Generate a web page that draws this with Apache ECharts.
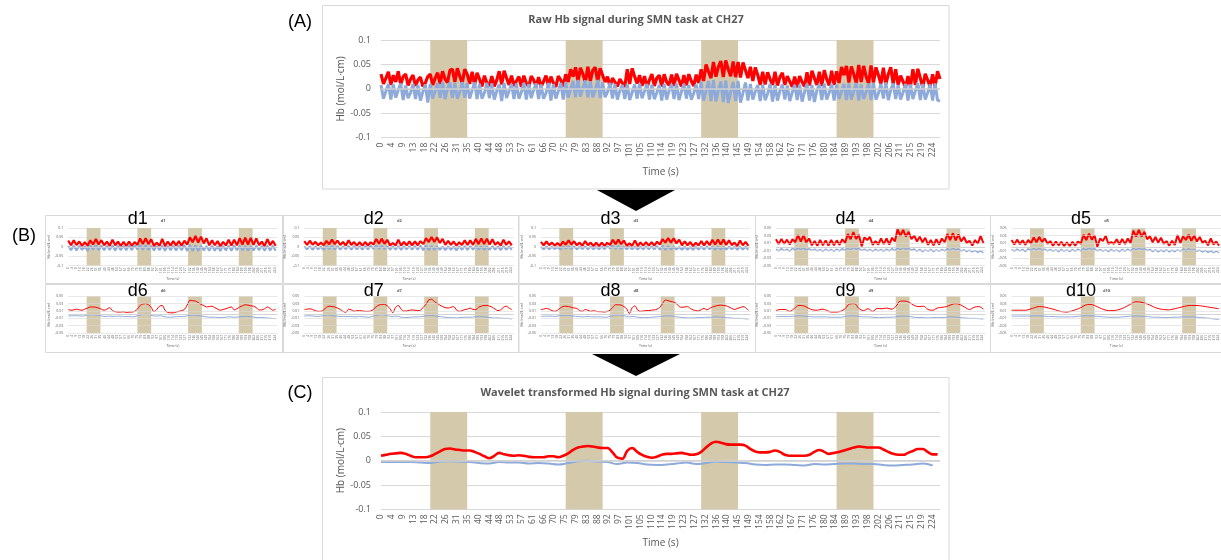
<!DOCTYPE html>
<html><head><meta charset="utf-8">
<script src="https://cdn.jsdelivr.net/npm/echarts@6/dist/echarts.min.js"></script>
<style>html,body{margin:0;padding:0;background:#fff}#c{width:1221px;height:560px}</style>
</head><body><div id="c"></div>
<script>
// ---------------- DATA (Hb values in thousandths: 1 unit = 0.001 mol/L·cm) ----------------
const TIME_TICKS = ['0','4','9','13','18','22','26','31','35','40','44','48','53','57','61','66','70','75','79','83','88','92','97','101','105','110','114','119','123','127','132','136','140','145','149','154','158','162','167','171','176','180','184','189','193','198','202','206','211','215','219','224'];
const TIME_TICK_STEP = 4.39;   // seconds between time tick labels
const TIME_MAX = 227;          // seconds
const TASK_BLOCKS = [[20,35],[75,90],[130,145],[185,200]];
const Y_TICKS_NARROW = [-0.05,-0.03,-0.01,0.01,0.03,0.05];

// (A) raw signal, 1 s step
const RAW_OXY = [30,10,22,35,8,28,14,36,9,25, 30,7,20,28,6,18,24,5,12,25, 30,8,22,33,10,36,20,13,38,40, 14,42,26,12,40,30,10,35,8,33, 20,5,27,12,6,26,5,18,36,9, 37,22,8,27,6,16,25,4,27,12, 4,26,18,5,24,4,15,27,6,25, 12,4,26,18,5,30,14,40,25,44, 15,43,30,14,45,16,38,44,15,42, 28,14,25,4,22,14,5,20,12,4, 40,10,42,25,11,28,6,26,3,18, 30,6,22,28,5,30,14,7,29,6, 31,18,5,28,7,30,16,6,29,12, 40,16,50,35,22,55,25,45,57,24, 58,40,26,56,24,55,23,54,38,22, 45,16,44,28,8,35,9,34,20,8, 35,7,24,33,8,26,15,4,25,3, 26,14,5,34,7,37,22,8,35,6, 38,20,7,37,8,36,12,45,28,47, 13,46,30,12,49,14,47,25,11,48, 13,44,28,10,43,9,30,44,10,40, 8,27,15,3,26,5,40,8,41,22, 3,31,18,4,30,5,36,20];
const RAW_DEOXY = [8,-20,-5,10,-22,9,-18,-2,11,-23, 7,-19,-8,10,-21,8,-24,-6,9,-28, 10,-20,-4,12,-18,14,-21,0,13,-19, 12,-20,-6,14,-18,12,-20,-3,13,-21, 10,-20,-8,12,-19,11,-22,-5,9,-25, 12,-19,-4,10,-21,11,-20,-7,12,-22, 10,-19,-2,11,-21,9,-20,-9,12,-24, 10,-20,-5,12,-22,14,-18,-1,16,-17, 18,-16,2,17,-18,15,-17,-3,18,-19, 14,-17,-6,12,-20,10,-22,-4,8,-21, 10,-23,-7,9,-20,11,-19,-5,10,-22, 9,-21,-8,8,-24,10,-22,-3,9,-21, 11,-23,-6,10,-20,8,-22,-9,9,-21, 15,-24,-4,16,-25,18,-26,-2,15,-27, 17,-29,-6,14,-25,16,-28,-8,13,-24, 10,-22,-5,8,-25,9,-23,-10,10,-26, 8,-24,-4,9,-22,7,-25,-7,8,-23, 9,-26,-6,10,-24,8,-27,-3,9,-23, 11,-22,-8,10,-24,9,-21,-5,10,-23, 11,-22,-4,12,-24,9,-21,-6,11,-23, 12,-22,-9,10,-20,13,-23,-2,11,-21, 8,-22,-7,10,-24,9,-21,-4,12,-23, 10,-22,-8,9,-24,11,-23,-25];

// (B) wavelet detail levels d1-d5, 3 s step
const D1_OXY = [33,8,35,9,28,5,24,6,34,12, 41,12,35,8,27,5,37,8,27,4, 26,4,27,5,25,10,44,14,45,14, 40,4,22,5,42,3,28,6,30,6, 30,6,32,12,50,24,57,23,54,18, 45,8,35,8,30,3,26,7,37,7, 37,8,46,12,48,12,47,10,44,9, 27,3,41,8,31,5];
const D1_DEOXY = [4,-18,6,-20,5,-17,3,-22,7,-16, 8,-18,6,-19,5,-17,7,-20,6,-18, 5,-19,7,-18,9,-15,10,-16,9,-17, 6,-20,5,-19,6,-21,5,-18,6,-20, 7,-19,9,-22,10,-23,8,-21,5,-20, 4,-22,5,-21,4,-23,5,-20,6,-21, 7,-19,6,-20,5,-21,4,-20,6,-19, 5,-22,6,-20,5,-21];
const D2_OXY = [30,10,32,11,26,8,22,8,31,13, 38,14,33,10,25,7,34,10,25,6, 24,6,25,7,24,12,41,16,42,16, 37,7,20,7,38,6,26,8,28,8, 28,8,30,14,46,25,52,25,50,20, 42,10,32,10,28,6,24,9,34,9, 34,10,42,14,44,14,43,12,40,11, 25,6,37,10,29,7];
const D2_DEOXY = [2,-14,3,-16,2,-13,0,-17,4,-12, 5,-14,3,-15,2,-13,4,-16,3,-14, 2,-15,4,-14,6,-11,7,-12,6,-13, 3,-16,2,-15,3,-17,2,-14,3,-16, 4,-15,6,-18,7,-19,5,-17,2,-16, 1,-18,2,-17,1,-19,2,-16,3,-17, 4,-15,3,-16,2,-17,1,-16,3,-15, 2,-18,3,-16,2,-17];
const D3_OXY = [26,8,28,9,22,6,19,6,27,11, 34,12,29,8,22,5,30,8,22,4, 21,4,22,5,21,10,37,14,38,14, 33,5,18,5,34,4,23,6,25,6, 25,6,27,12,41,22,47,22,45,18, 38,8,29,8,25,4,21,7,30,7, 30,8,37,12,39,12,38,10,35,9, 22,4,33,8,26,5];
const D3_DEOXY = [0,-13,1,-14,0,-12,-2,-15,2,-11, 3,-12,1,-13,0,-12,2,-14,1,-13, 0,-14,2,-13,4,-10,5,-11,4,-12, 1,-14,0,-14,1,-15,0,-13,1,-14, 2,-14,4,-16,5,-17,3,-15,0,-15, -1,-16,0,-16,-1,-17,0,-15,1,-15, 2,-14,1,-15,0,-15,-1,-15,1,-14, 0,-16,1,-15,0,-16];
const D4_OXY = [20,7,21,8,19,6,20,12,31,14, 30,12,22,4,15,3,18,4,17,3, 18,4,17,5,20,10,34,20,39,21, 32,1,25,18,26,5,15,6,22,7, 22,6,24,14,46,29,45,27,40,20, 30,14,27,12,24,5,18,4,20,6, 22,12,34,18,36,17,33,14,26,10, 16,3,18,8,29,10];
const D4_DEOXY = [-6,-11,-5,-10,-6,-12,-4,-9,-3,-8, -3,-9,-5,-10,-6,-11,-7,-12,-6,-11, -7,-12,-6,-11,-5,-10,-4,-8,-2,-7, -4,-10,-6,-11,-7,-12,-6,-11,-7,-12, -6,-11,-5,-10,-3,-8,-2,-7,-4,-9, -6,-12,-7,-13,-8,-12,-7,-13,-8,-12, -7,-11,-5,-10,-4,-9,-6,-11,-8,-13, -9,-14,-10,-15,-11,-16];
const D5_OXY = [18,6,19,7,17,5,18,9,25,12, 26,13,22,8,15,3,14,4,13,2, 12,2,13,3,14,8,32,18,35,19, 30,0,22,15,29,8,12,8,20,6, 21,7,22,10,43,27,45,27,40,20, 28,12,26,11,24,8,15,3,16,5, 31,10,28,18,32,16,30,14,26,11, 16,4,22,6,14,3];
const D5_DEOXY = [-7,-12,-6,-11,-7,-13,-5,-10,-4,-9, -4,-10,-6,-11,-7,-12,-8,-13,-7,-12, -8,-13,-7,-12,-6,-11,-5,-9,-3,-8, -5,-11,-7,-12,-8,-13,-7,-12,-8,-13, -7,-12,-6,-11,-4,-9,-3,-8,-5,-10, -7,-13,-8,-14,-9,-13,-8,-14,-9,-13, -8,-12,-6,-11,-5,-10,-7,-12,-9,-14, -10,-15,-11,-16,-12,-16];
// d6-d8 oxy: 3 s step; d9, d10 oxy and all d6-d10 deoxy: 5 s step
const D6_OXY = [14,12,13,15,13,12,15,18,21,21, 20,18,15,12,15,19,11,8,7,7, 8,6,7,7,9,15,25,29,30,27, 20,8,14,23,25,12,6,5,5,7, 9,11,14,26,39,38,37,33,28,25, 21,22,23,19,15,12,14,16,19,21, 13,16,21,24,27,26,24,23,19,13, 13,16,21,17,12,15];
const D6_DEOXY = [-4,-3,-3,-4,-2,0,-1,-3,-5,-4, -5,-4,-5,-5,-6,-3,0,1,-2,-4, -3,-6,-7,-6,-5,-5,-3,-1,-2,-4, -6,-7,-7,-8,-7,-6,-7,-6,-5,-5, -6,-8,-8,-9,-10,-11];
const D7_OXY = [14,15,16,14,11,9,9,13,20,23, 22,21,18,14,9,6,15,13,9,11, 11,10,9,9,10,14,22,26,28,28, 24,16,5,20,25,15,10,10,12,13, 12,11,12,20,28,40,42,36,31,26, 22,19,18,20,22,13,9,11,14,15, 18,14,14,20,23,25,25,23,20,15, 11,13,20,23,18,14];
const D7_DEOXY = [-4,-3,-4,-5,-3,-1,-2,-4,-5,-5, -5,-6,-5,-6,-7,-4,-1,0,-3,-5, -4,-7,-8,-7,-6,-6,-4,-2,-3,-5, -6,-8,-8,-9,-8,-7,-7,-6,-5,-6, -7,-9,-9,-10,-10,-12];
const D8_OXY = [14,15,17,15,11,9,12,18,22,23, 22,20,18,17,11,9,14,12,9,11, 9,8,8,7,9,12,20,27,27,26, 22,16,3,19,24,12,9,10,11,11, 12,13,15,20,30,40,38,36,34,30, 22,20,21,22,17,13,11,10,14,17, 13,17,21,23,25,26,25,24,21,17, 14,17,19,22,19,12];
const D8_DEOXY = [-5,-4,-4,-5,-3,-2,-2,-4,-5,-6, -5,-6,-6,-6,-7,-5,-2,-1,-3,-6, -5,-7,-8,-8,-7,-6,-5,-3,-3,-5, -7,-8,-9,-9,-8,-8,-7,-7,-6,-7, -8,-9,-10,-10,-11,-12];
const D9_OXY = [11,14,14,9,17,25,24,18,13,12, 15,12,7,7,9,16,29,30,17,11, 16,9,17,16,18,15,22,37,37,33, 25,22,23,14,12,18,20,22,27,30, 27,20,14,20,22,15];
const D9_DEOXY = [-5,-5,-5,-5,-4,-3,-4,-5,-6,-6, -6,-6,-7,-7,-7,-5,-3,-3,-5,-6, -6,-7,-8,-8,-7,-7,-6,-4,-4,-5, -7,-8,-8,-9,-8,-8,-8,-7,-6,-7, -8,-9,-10,-10,-11,-12];
const D10_OXY = [12,12,12,12,15,19,22,21,18,15, 11,8,7,10,14,19,26,28,25,19, 14,11,11,13,17,23,30,35,34,31, 26,20,16,14,13,15,18,21,24,25, 25,24,22,20,18,16];
const D10_DEOXY = [-4,-4,-4,-4,-4,-3,-3,-4,-5,-5, -6,-6,-6,-6,-5,-4,-3,-3,-4,-5, -6,-7,-7,-7,-6,-5,-4,-4,-4,-5, -6,-7,-7,-8,-8,-7,-7,-6,-6,-6, -7,-8,-9,-10,-12,-13];

// (C) wavelet-transformed signal: oxy 2 s step, deoxy 4 s step
const WAVELET_OXY = [10,12,14,15,16,14,10,7,7,7, 9,14,19,24,25,23,22,21,21,18, 14,9,5,10,16,13,11,10,11,10, 8,7,7,7,9,9,7,10,15,22, 27,29,30,29,27,26,26,17,6,4, 20,26,18,12,8,6,8,12,14,14, 15,16,14,12,13,18,27,35,39,37, 34,33,33,33,31,24,19,17,17,18, 21,18,12,10,10,10,10,12,18,22, 18,14,16,18,21,24,27,29,28,27, 27,27,23,18,14,12,12,16,20,24, 24,18,13,13];
const WAVELET_DEOXY = [-3,-3,-3,-3,-4,-5,-2,-1,-2,-3, -5,-6,-3,-4,-4,-6,-5,-6,-8,-5, -1,0,-2,-3,-7,-4,-5,-8,-9,-8, -6,-4,-7,-5,-2,-3,-4,-5,-8,-9, -8,-8,-9,-10,-7,-8,-7,-6,-6,-7, -7,-9,-10,-9,-8,-6,-10];

// ---------------- STYLE ----------------
const FONT = "'Open Sans','Noto Sans',sans-serif";
const ARIAL = "'Liberation Sans',Arial,sans-serif";
const GRAY = '#595959', GRID_C = '#d9d9d9', ZERO_C = '#cfcfcf';
const RED = '#ff0000', BLUE = '#8eaadb', TAN = '#d4c9aa';

const toPairs = (vals, step) => vals.map((v, i) => [i * step, v / 1000]);
const timeLabel = v => { const i = Math.round(v / TIME_TICK_STEP); return Math.abs(v - i * TIME_TICK_STEP) < 0.01 && TIME_TICKS[i] !== undefined ? TIME_TICKS[i] : ''; };
const yLabel = v => String(Math.round(v * 100) / 100);

const grids = [], xAxes = [], yAxes = [], series = [];
function addPanel(p) {
  const k = grids.length;
  const wide = p.range === 'wide';
  grids.push({left: p.left, top: p.top, width: p.width, height: p.height, outerBoundsMode: 'none', containLabel: false});
  xAxes.push({gridIndex: k, type: 'value', min: 0, max: TIME_MAX, interval: TIME_TICK_STEP,
    axisLine: {show: false}, axisTick: {show: false}, splitLine: {show: false},
    axisLabel: {rotate: 90, fontSize: p.xfs, color: GRAY, margin: p.xMargin, fontFamily: FONT, formatter: timeLabel, hideOverlap: false},
    name: 'Time (s)', nameLocation: 'middle', nameGap: p.xNameGap,
    nameTextStyle: {fontSize: p.nfs, color: GRAY, fontFamily: FONT}});
  const yAx = {gridIndex: k, type: 'value', min: wide ? -0.1 : -0.05, max: wide ? 0.1 : 0.05,
    axisLine: {show: false}, axisTick: {show: false},
    splitLine: {show: wide, lineStyle: {color: GRID_C, width: p.gridW}},
    axisLabel: {fontSize: p.yfs, color: GRAY, margin: p.yMargin, fontFamily: FONT, formatter: yLabel},
    name: 'Hb (mol/L\u00b7cm)', nameLocation: 'middle', nameGap: p.yNameGap, nameRotate: 90,
    nameTextStyle: {fontSize: p.nfs, color: GRAY, fontFamily: FONT}};
  if (wide) yAx.interval = 0.05;
  else { yAx.axisLabel.customValues = Y_TICKS_NARROW; yAx.axisTick.customValues = Y_TICKS_NARROW; }
  yAxes.push(yAx);
  const ml = (wide ? [] : Y_TICKS_NARROW.map(v => ({yAxis: v})));
  ml.push({yAxis: 0, lineStyle: {color: ZERO_C, width: p.zeroW}});
  series.push({type: 'line', xAxisIndex: k, yAxisIndex: k, data: [], silent: true, symbol: 'none',
    markLine: {silent: true, symbol: ['none', 'none'], label: {show: false}, emphasis: {disabled: true},
      lineStyle: {color: GRID_C, width: p.gridW, type: 'solid'}, data: ml}});
  series.push({type: 'line', xAxisIndex: k, yAxisIndex: k, data: [], silent: true, symbol: 'none',
    markArea: {silent: true, itemStyle: {color: TAN}, emphasis: {disabled: true},
      data: TASK_BLOCKS.map(b => [{xAxis: b[0]}, {xAxis: b[1]}])}});
  series.push({type: 'line', xAxisIndex: k, yAxisIndex: k, data: toPairs(p.oxy, p.oxyStep), symbol: 'none',
    smooth: p.smooth, silent: true, lineStyle: {color: RED, width: p.oxyW, join: 'bevel'}, itemStyle: {color: RED}});
  series.push({type: 'line', xAxisIndex: k, yAxisIndex: k, data: toPairs(p.deoxy, p.deoxyStep), symbol: 'none',
    smooth: p.smooth, silent: true, lineStyle: {color: BLUE, width: p.deoxyW, join: 'bevel'}, itemStyle: {color: BLUE}});
}

const BIG = {xfs: 8.5, yfs: 9, nfs: 10, xMargin: 5, yMargin: 10, xNameGap: 29, yNameGap: 29, gridW: 1, zeroW: 1.6};
// Panel A
addPanel(Object.assign({}, BIG, {left: 381, top: 40, width: 559, height: 97.7, range: 'wide',
  oxy: RAW_OXY, oxyStep: 1, deoxy: RAW_DEOXY, deoxyStep: 1, smooth: false, oxyW: 3.2, deoxyW: 3}));
// Panel C
addPanel(Object.assign({}, BIG, {left: 381, top: 412, width: 559, height: 97.3, range: 'wide',
  oxy: WAVELET_OXY, oxyStep: 2, deoxy: WAVELET_DEOXY, deoxyStep: 4, smooth: 0.4, oxyW: 2.6, deoxyW: 2}));

// Panel B
const B_LEVELS = [
  {name: 'd1', oxy: D1_OXY, oxyStep: 3, deoxy: D1_DEOXY, deoxyStep: 3, range: 'wide', smooth: false, oxyW: 2.2, deoxyW: 2},
  {name: 'd2', oxy: D2_OXY, oxyStep: 3, deoxy: D2_DEOXY, deoxyStep: 3, range: 'wide', smooth: false, oxyW: 2.2, deoxyW: 2},
  {name: 'd3', oxy: D3_OXY, oxyStep: 3, deoxy: D3_DEOXY, deoxyStep: 3, range: 'wide', smooth: false, oxyW: 2.2, deoxyW: 2},
  {name: 'd4', oxy: D4_OXY, oxyStep: 3, deoxy: D4_DEOXY, deoxyStep: 3, range: 'narrow', smooth: false, oxyW: 2, deoxyW: 1.4},
  {name: 'd5', oxy: D5_OXY, oxyStep: 3, deoxy: D5_DEOXY, deoxyStep: 3, range: 'narrow', smooth: false, oxyW: 2, deoxyW: 1.4},
  {name: 'd6', oxy: D6_OXY, oxyStep: 3, deoxy: D6_DEOXY, deoxyStep: 5, range: 'narrow', smooth: 0.3, oxyW: 1, deoxyW: 1},
  {name: 'd7', oxy: D7_OXY, oxyStep: 3, deoxy: D7_DEOXY, deoxyStep: 5, range: 'narrow', smooth: 0.3, oxyW: 1, deoxyW: 1},
  {name: 'd8', oxy: D8_OXY, oxyStep: 3, deoxy: D8_DEOXY, deoxyStep: 5, range: 'narrow', smooth: 0.3, oxyW: 1, deoxyW: 1},
  {name: 'd9', oxy: D9_OXY, oxyStep: 5, deoxy: D9_DEOXY, deoxyStep: 5, range: 'narrow', smooth: 0.4, oxyW: 1, deoxyW: 1},
  {name: 'd10', oxy: D10_OXY, oxyStep: 5, deoxy: D10_DEOXY, deoxyStep: 5, range: 'narrow', smooth: 0.4, oxyW: 1, deoxyW: 1}
];
const COL_PLOT_LEFT = [68.2, 304.3, 540.9, 775.9, 1011.6];
const COL_BOX_LEFT = [45, 283, 518.5, 755, 990];
const COL_BOX_W = [237, 235, 236.5, 235, 240];
const ROW_PLOT = [{top: 228, height: 37.5}, {top: 296.3, height: 36.7}];
const ROW_BOX = [{top: 215, height: 68}, {top: 284, height: 68}];
const ROW_BIG_Y = [219, 291];
const ROW_SMALL_Y = [221, 290.5];
const SMALL = {xfs: 3.2, yfs: 3.5, nfs: 3.6, xMargin: 2, yMargin: 5, xNameGap: 10, yNameGap: 11, gridW: 0.6, zeroW: 0.9};

const graphics = [];
graphics.push({type: 'rect', shape: {x: 322.5, y: 5.5, width: 626.5, height: 183.5}, style: {fill: '#fff', stroke: GRID_C, lineWidth: 1}, silent: true, z: -10});
graphics.push({type: 'rect', shape: {x: 322.5, y: 377.5, width: 626.5, height: 200}, style: {fill: '#fff', stroke: GRID_C, lineWidth: 1}, silent: true, z: -10});

B_LEVELS.forEach((lv, i) => {
  const col = i % 5, row = Math.floor(i / 5);
  graphics.push({type: 'rect', shape: {x: COL_BOX_LEFT[col] + 0.5, y: ROW_BOX[row].top + 0.5, width: COL_BOX_W[col], height: ROW_BOX[row].height},
    style: {fill: '#fff', stroke: GRID_C, lineWidth: 1}, silent: true, z: -10});
  addPanel(Object.assign({}, SMALL, lv, {left: COL_PLOT_LEFT[col], top: ROW_PLOT[row].top, width: 209.3, height: ROW_PLOT[row].height}));
  const cx = COL_PLOT_LEFT[col] + 69.5;
  graphics.push({type: 'text', x: cx, y: ROW_BIG_Y[row], silent: true, z: 10,
    style: {text: lv.name, fontSize: 18, fontFamily: ARIAL, fill: '#000', align: 'center', verticalAlign: 'middle'}});
  graphics.push({type: 'text', x: cx + 25.5, y: ROW_SMALL_Y[row], silent: true, z: 10,
    style: {text: lv.name, fontSize: 4, fontFamily: FONT, fontWeight: 'bold', fill: GRAY, align: 'center', verticalAlign: 'middle'}});
});

// titles & panel labels
graphics.push({type: 'text', x: 636, y: 20, silent: true, style: {text: 'Raw Hb signal during SMN task at CH27', fontSize: 11, fontWeight: 'bold', fontFamily: FONT, fill: GRAY, align: 'center', verticalAlign: 'middle'}});
graphics.push({type: 'text', x: 635, y: 393, silent: true, style: {text: 'Wavelet transformed Hb signal during SMN task at CH27', fontSize: 11, fontWeight: 'bold', fontFamily: FONT, fill: GRAY, align: 'center', verticalAlign: 'middle'}});
graphics.push({type: 'text', x: 300, y: 22, silent: true, style: {text: '(A)', fontSize: 18, fontFamily: ARIAL, fill: '#000', align: 'center', verticalAlign: 'middle'}});
graphics.push({type: 'text', x: 24, y: 236, silent: true, style: {text: '(B)', fontSize: 18, fontFamily: ARIAL, fill: '#000', align: 'center', verticalAlign: 'middle'}});
graphics.push({type: 'text', x: 300, y: 393, silent: true, style: {text: '(C)', fontSize: 18, fontFamily: ARIAL, fill: '#000', align: 'center', verticalAlign: 'middle'}});
// arrows
graphics.push({type: 'polygon', shape: {points: [[597, 190], [675, 190], [636, 211]]}, style: {fill: '#000'}, silent: true, z: 20});
graphics.push({type: 'polygon', shape: {points: [[592, 354], [680, 354], [636, 376]]}, style: {fill: '#000'}, silent: true, z: 20});

const chart = echarts.init(document.getElementById('c'), null, {renderer: 'canvas', width: 1221, height: 560});
chart.setOption({
  animation: false,
  backgroundColor: '#fff',
  grid: grids, xAxis: xAxes, yAxis: yAxes, series: series,
  graphic: {elements: graphics}
});
</script>
</body></html>
